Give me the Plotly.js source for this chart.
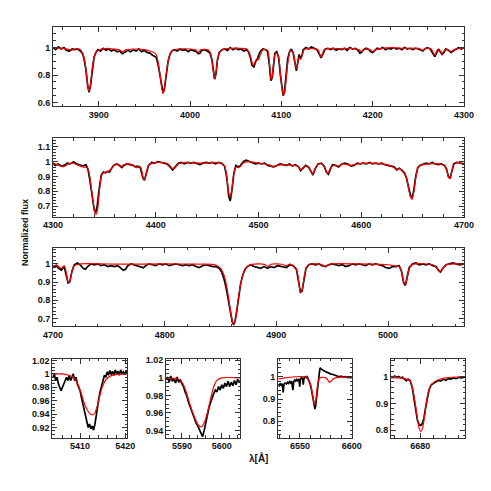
<!DOCTYPE html>
<html>
<head>
<meta charset="utf-8">
<script src="https://cdn.plot.ly/plotly-3.0.1.min.js"></script>
<style>
  html, body { margin: 0; padding: 0; background: #fff; }
  #plot { width: 491px; height: 491px; }
</style>
</head>
<body>
<div id="plot"></div>
<script>
// ---- panel 1 : 3850 - 4300 A ----
var obs1_wl = [3850,3853,3856,3859,3862,3865,3868,3871,3874,3877,3880,3882,3884,3886,3888,3889.5,3891,3893,3895,3897,3899,3902,3905,3908,3911,3914,3917,3920,3923,3926,3929,3932,3935,3938,3941,3944,3947,3950,3953,3956,3959,3961,3963,3965,3967,3969,3970.5,3972,3974,3976,3978,3980,3983,3986,3989,3992,3995,3998,4001,4004,4007,4009,4011,4013,4016,4019,4022,4024,4026,4027,4028.5,4030,4032,4035,4038,4041,4044,4047,4050,4053,4056,4059,4062,4064,4066,4068,4070,4072,4074,4076,4078,4080,4083,4085,4087,4088.5,4090,4091.5,4093,4095,4097,4099,4101,4102,4103.5,4105,4107,4109,4111,4113,4115,4116.5,4118,4119.5,4121,4122.5,4124,4127,4130,4133,4136,4139,4141,4143.5,4146,4148,4151,4154,4157,4160,4163,4166,4169,4172,4175,4178,4181,4184,4186,4188,4190,4193,4196,4198,4200,4202,4205,4208,4211,4214,4217,4220,4223,4226,4229,4232,4235,4238,4241,4244,4247,4250,4253,4255,4257,4260,4263,4266,4268,4270,4272,4274,4276,4278,4280,4283,4286,4288,4291,4294,4297,4300];
var obs1_fx = [1.00,0.985,1.005,0.99,1.00,0.98,0.975,0.99,0.985,0.99,0.975,0.96,0.92,0.84,0.72,0.675,0.72,0.84,0.93,0.965,0.985,0.975,0.995,0.98,0.99,0.975,0.985,0.97,0.975,0.955,0.965,0.98,0.97,0.985,0.975,0.99,0.97,0.98,0.965,0.96,0.945,0.94,0.93,0.88,0.80,0.70,0.67,0.70,0.80,0.90,0.95,0.975,0.985,0.975,0.99,0.98,0.985,0.97,0.985,0.975,0.97,0.955,0.96,0.98,0.985,0.975,0.96,0.91,0.80,0.77,0.81,0.91,0.965,0.985,0.99,0.98,1.0,0.985,0.995,0.985,0.99,0.975,0.985,0.97,0.93,0.87,0.86,0.90,0.92,0.96,0.98,0.99,0.985,0.97,0.87,0.76,0.78,0.88,0.96,0.97,0.93,0.80,0.68,0.65,0.68,0.80,0.92,0.97,0.99,0.96,0.87,0.83,0.89,0.95,0.92,0.94,0.985,1.0,0.99,1.005,0.995,0.985,0.96,0.925,0.96,0.99,0.995,0.985,0.995,0.98,0.99,0.985,0.995,0.98,1.0,0.99,0.995,0.98,0.96,0.965,0.985,0.995,0.985,0.97,0.965,0.98,0.995,0.99,1.0,0.985,0.995,0.99,1.0,0.99,0.995,0.985,1.0,0.99,0.995,0.985,0.995,0.99,0.98,0.975,0.99,1.0,0.99,0.96,0.935,0.96,0.99,0.97,0.95,0.965,0.99,0.98,0.965,0.975,0.99,1.0,0.99,1.0];
var mod1_wl = [3850,3860,3866,3870,3874,3880,3884,3886,3888,3889.5,3891,3893,3895,3898,3903,3910,3916,3922,3926,3930,3940,3950,3956,3960,3963,3965,3967,3969,3970.5,3972,3974,3976,3978,3981,3988,4000,4006,4009,4012,4020,4023,4025,4026.5,4028,4030,4032,4035,4045,4055,4062,4065,4068,4069.5,4071,4073,4075,4077,4080,4085,4087,4088.5,4090,4091.5,4093,4095,4097,4099,4101,4102.5,4104,4106,4108,4110,4113,4115,4116.5,4118,4119.5,4121,4122.5,4125,4130,4140,4143.5,4147,4155,4165,4175,4185,4188,4191,4197,4200,4203,4210,4220,4235,4250,4255,4258,4264,4268,4271,4274,4276,4278,4281,4286,4289,4295,4300];
var mod1_fx = [1.0,0.995,0.99,0.98,0.99,0.985,0.93,0.85,0.73,0.68,0.73,0.85,0.93,0.975,0.99,0.995,0.99,0.985,0.97,0.985,0.99,0.985,0.975,0.965,0.95,0.90,0.81,0.71,0.665,0.71,0.81,0.90,0.95,0.98,0.99,0.99,0.985,0.965,0.985,0.985,0.95,0.86,0.775,0.80,0.90,0.96,0.985,0.995,0.995,0.99,0.96,0.89,0.87,0.89,0.92,0.91,0.95,0.985,0.98,0.89,0.77,0.79,0.89,0.95,0.96,0.93,0.81,0.69,0.655,0.69,0.82,0.93,0.98,0.96,0.89,0.85,0.89,0.93,0.915,0.94,0.985,0.995,0.985,0.93,0.985,0.995,0.99,0.995,0.985,0.97,0.99,0.985,0.97,0.985,0.995,1.0,0.995,0.995,0.98,0.995,0.99,0.945,0.985,0.975,0.955,0.975,0.99,0.97,0.985,0.995,1.0];

// ---- panel 2 : 4300 - 4700 A ----
var obs2_wl = [4300,4302,4305,4308,4311,4314,4317,4320,4323,4326,4329,4332,4334,4336,4338,4340,4341.5,4343,4345,4347,4349,4351,4353,4355,4357,4359,4362,4365,4367,4369,4372,4375,4378,4380,4382,4385,4387.5,4389,4391,4393,4396,4399,4402,4405,4408,4411,4414,4416.5,4419,4422,4425,4428,4431,4434,4437,4440,4443,4446,4449,4452,4455,4458,4461,4464,4467,4469,4471,4472.5,4474,4476,4478,4480,4482,4484,4486,4488,4491,4494,4497,4500,4503,4506,4509,4512,4515,4518,4521,4524,4527,4530,4533,4536,4539,4541,4543,4546,4549,4551,4553,4555,4558,4561,4564,4566,4568,4570,4572,4575,4578,4581,4584,4587,4590,4593,4596,4599,4602,4605,4608,4611,4614,4617,4620,4623,4626,4629,4632,4634.5,4637,4640,4642,4644,4646,4648,4649.5,4651,4653,4655,4657,4660,4663,4666,4669,4672,4675,4678,4681,4683,4685,4686.5,4688,4690,4693,4696,4700];
var obs2_fx = [0.99,0.975,0.985,0.97,0.975,0.99,0.985,1.0,0.985,0.975,0.97,0.98,0.95,0.87,0.76,0.68,0.655,0.70,0.82,0.91,0.93,0.925,0.935,0.93,0.955,0.975,0.985,0.975,0.96,0.975,0.985,0.98,0.975,0.965,0.97,0.96,0.89,0.875,0.93,0.975,0.995,0.99,1.0,0.995,0.99,0.985,0.965,0.945,0.965,0.99,0.995,0.985,0.995,0.99,0.995,0.985,0.98,0.99,0.995,0.99,0.995,0.985,0.995,0.99,0.97,0.90,0.77,0.735,0.80,0.92,0.975,0.965,0.97,0.99,1.005,1.01,1.0,0.995,0.985,0.99,0.985,0.99,0.975,0.97,0.965,0.975,0.985,0.98,0.975,0.985,0.97,0.98,0.965,0.94,0.955,0.975,0.96,0.93,0.91,0.95,0.985,0.99,0.97,0.93,0.915,0.95,0.98,0.975,0.965,0.985,0.99,0.985,0.97,0.975,0.99,0.985,0.99,0.985,0.995,0.985,0.99,0.985,0.99,0.98,0.975,0.97,0.965,0.945,0.955,0.94,0.925,0.89,0.82,0.77,0.76,0.80,0.90,0.96,0.975,0.98,0.99,0.985,0.995,0.985,0.98,0.985,0.975,0.95,0.895,0.89,0.94,0.985,0.995,0.99,0.985];
var mod2_wl = [4300,4304,4310,4315,4320,4325,4329,4333,4335,4337,4339,4341,4342,4343.5,4345,4347,4349,4352,4355,4358,4362,4366,4369,4374,4378,4381,4384,4386,4388,4389.5,4391,4393,4397,4405,4412,4416,4419,4422,4430,4445,4455,4464,4467,4469,4471,4472.5,4474,4476,4478,4480,4482,4485,4490,4500,4510,4514,4518,4525,4533,4538,4541.5,4544,4548,4551,4553,4555,4558,4562,4565,4567.5,4570,4573,4578,4582,4590,4596,4610,4620,4627,4631,4634.5,4637,4640,4642,4644,4646,4648,4649.5,4651,4653,4655,4658,4665,4675,4681,4683,4685,4686.5,4688,4690,4694,4700];
var mod2_fx = [0.99,0.98,0.965,0.985,0.99,0.975,0.965,0.96,0.93,0.84,0.73,0.65,0.645,0.68,0.79,0.90,0.925,0.93,0.94,0.965,0.985,0.965,0.98,0.985,0.975,0.96,0.97,0.95,0.885,0.88,0.93,0.975,0.99,0.995,0.985,0.955,0.96,0.985,0.995,0.99,0.995,0.99,0.97,0.91,0.79,0.76,0.81,0.92,0.965,0.96,0.965,0.99,1.0,0.99,0.98,0.965,0.975,0.98,0.975,0.97,0.945,0.965,0.97,0.935,0.915,0.95,0.985,0.985,0.95,0.92,0.955,0.975,0.97,0.985,0.975,0.985,0.99,0.985,0.975,0.965,0.945,0.955,0.935,0.92,0.89,0.82,0.76,0.745,0.79,0.89,0.955,0.975,0.985,0.985,0.975,0.95,0.895,0.885,0.93,0.98,0.995,0.98];

// ---- panel 3 : 4700 - 5068 A ----
var obs3_wl = [4700,4703,4705,4707.5,4710,4712,4713.5,4715,4717,4719,4722,4725,4727,4729,4731,4734,4737,4740,4743,4746,4749,4752,4755,4758,4761,4763,4765,4767,4770,4773,4776,4779,4781,4783,4786,4789,4792,4795,4798,4801,4804,4807,4810,4813,4816,4819,4822,4825,4828,4831,4834,4837,4840,4843,4846,4849,4851,4853,4855,4857,4859,4860.5,4861.8,4863,4864.5,4866,4868,4870,4872,4874,4877,4880,4883,4886,4889,4892,4895,4898,4901,4904,4907,4909,4912,4915,4918,4920,4921.5,4923,4924.5,4926.5,4929,4932,4935,4938,4941,4944,4947,4950,4953,4956,4959,4962,4965,4968,4971,4974,4977,4980,4983,4986,4989,4992,4995,4998,5001,5004,5007,5010,5012,5014,5015.5,5017,5019,5022,5025,5028,5031,5034,5037,5040,5043,5045,5047,5049,5052,5055,5058,5061,5064,5068];
var obs3_fx = [0.985,0.99,0.975,0.965,0.985,0.94,0.895,0.90,0.96,0.995,1.005,0.99,0.975,0.97,0.985,1.0,0.995,1.0,0.99,0.995,0.985,0.99,0.985,0.99,0.975,0.965,0.97,0.99,1.0,0.995,0.99,0.985,0.978,0.99,1.0,0.995,0.99,1.0,0.995,1.0,0.99,0.995,1.0,0.995,0.99,0.995,0.99,0.995,0.985,0.98,0.99,0.995,0.99,0.985,0.985,0.975,0.955,0.92,0.87,0.80,0.72,0.68,0.665,0.685,0.74,0.81,0.89,0.94,0.97,0.985,0.995,0.985,0.98,0.975,0.985,0.975,0.985,0.98,0.99,0.985,0.98,0.98,0.995,0.99,0.97,0.90,0.845,0.85,0.91,0.975,0.995,1.0,0.995,1.0,0.99,0.985,0.995,1.0,0.995,0.99,0.995,0.985,0.99,1.0,0.995,1.0,0.995,0.99,1.0,0.995,1.0,0.995,0.99,0.98,0.975,0.985,0.985,0.99,0.96,0.895,0.88,0.925,0.98,1.0,1.005,0.995,1.0,0.995,1.0,0.99,0.985,0.965,0.955,0.975,0.995,1.0,1.005,1.0,0.995,1.0];
var mod3_wl = [4700,4703,4705,4707.5,4710,4712,4713.5,4715,4717,4719,4725,4760,4800,4830,4843,4847,4850,4852,4854,4856,4858,4860,4861.5,4863,4864.5,4866,4868,4870,4872,4875,4878,4885,4890,4892.5,4895,4905,4909,4912,4917,4919.5,4921.5,4923,4925,4927,4930,4940,4944,4947,4970,5000,5005,5010,5012,5014,5015.5,5017,5019,5022,5040,5044,5046.5,5049,5052,5060,5068];
var mod3_fx = [0.985,0.995,0.985,0.975,0.99,0.95,0.90,0.905,0.96,0.99,1.0,0.998,1.0,0.998,0.997,0.99,0.975,0.955,0.92,0.86,0.78,0.70,0.67,0.685,0.74,0.81,0.89,0.94,0.97,0.99,0.997,1.0,0.995,0.985,0.998,0.998,0.99,0.998,0.98,0.93,0.84,0.855,0.93,0.98,0.998,0.998,0.985,0.998,1.0,0.995,0.99,0.985,0.96,0.90,0.885,0.92,0.975,0.998,0.995,0.975,0.955,0.975,0.995,1.0,1.0];

// ---- bottom panels ----
var obs4_wl = [5404,5404.3,5404.6,5404.9,5405.2,5405.5,5405.8,5406.1,5406.4,5406.7,5407,5407.3,5407.6,5407.9,5408.2,5408.5,5408.8,5409.1,5409.4,5409.7,5410,5410.3,5410.6,5410.9,5411.2,5411.5,5411.8,5412.1,5412.4,5412.7,5413,5413.3,5413.6,5413.9,5414.2,5414.5,5414.8,5415.1,5415.4,5415.7,5416,5416.3,5416.6,5416.9,5417.2,5417.5,5417.8,5418.1,5418.4,5418.7,5419,5419.3,5419.6,5419.9,5420.2,5420.4];
var obs4_fx = [0.995,1.0,0.99,0.995,0.985,0.98,0.975,0.98,0.985,0.99,0.995,0.99,0.998,0.99,0.995,1.0,0.99,0.995,0.985,0.98,0.975,0.965,0.955,0.945,0.935,0.93,0.92,0.925,0.918,0.922,0.916,0.925,0.94,0.955,0.965,0.975,0.985,0.99,0.998,0.995,1.003,0.998,1.005,0.999,1.004,0.998,1.006,1.0,1.004,0.998,1.006,1.0,1.003,0.999,1.004,1.0];
var mod4_wl = [5403.8,5406,5407.5,5408.5,5409.5,5410.3,5411,5411.7,5412.3,5412.8,5413.3,5413.8,5414.4,5415,5415.8,5416.8,5418,5420.4];
var mod4_fx = [1.0,1.0,0.998,0.995,0.985,0.97,0.955,0.945,0.94,0.939,0.942,0.952,0.968,0.982,0.992,0.997,0.999,1.0];

var obs5_wl = [5586,5586.4,5586.8,5587.2,5587.6,5588,5588.4,5588.8,5589.2,5589.6,5590,5590.4,5590.8,5591.2,5591.6,5592,5592.4,5592.8,5593.2,5593.6,5594,5594.4,5594.8,5595.2,5595.6,5596,5596.4,5596.8,5597.2,5597.6,5598,5598.4,5598.8,5599.2,5599.6,5600,5600.4,5600.8,5601.2,5601.6,5602,5602.4,5602.8,5603.2,5603.6,5604,5604.6];
var obs5_fx = [0.998,1.0,0.995,1.002,0.996,0.999,0.994,1.001,0.995,0.998,0.993,0.99,0.984,0.98,0.973,0.968,0.962,0.957,0.953,0.948,0.945,0.941,0.936,0.933,0.94,0.95,0.958,0.966,0.972,0.978,0.982,0.986,0.984,0.99,0.986,0.992,0.988,0.994,0.99,0.996,0.99,0.995,0.991,0.997,0.992,0.998,0.995];
var mod5_wl = [5586,5589,5590,5591,5592,5593,5594,5594.9,5595.7,5596.5,5597.3,5598,5598.8,5600,5604.6];
var mod5_fx = [1.0,0.999,0.995,0.985,0.97,0.957,0.947,0.944,0.95,0.962,0.978,0.99,0.997,1.0,1.0];

var obs6_wl = [6529,6530,6531,6532,6533,6533.8,6534.5,6535.5,6537,6538,6539,6540,6541,6542,6543.2,6544,6545,6546,6547,6548,6549,6549.8,6550.5,6551.5,6552.5,6553.2,6554,6555,6556,6557,6558,6559,6560,6561,6562,6563,6563.8,6564.5,6565.2,6566,6567,6568,6568.8,6569.5,6570.5,6572,6574,6576,6578,6580,6582,6584,6586,6588,6590,6592,6594,6596,6598,6600];
var obs6_fx = [0.965,0.96,0.97,0.962,0.968,0.93,0.966,0.972,0.968,0.975,0.97,0.978,0.972,0.98,0.94,0.978,0.985,0.98,0.988,0.982,0.99,0.955,0.99,0.995,0.99,0.965,0.995,1.0,0.995,1.0,0.99,0.98,0.965,0.945,0.92,0.88,0.86,0.855,0.87,0.91,0.96,0.99,1.02,1.04,1.035,1.03,1.025,1.02,1.018,1.012,1.01,1.006,1.005,1.0,1.003,0.998,1.0,0.996,0.998,0.995];
var mod6_wl = [6529,6535,6545,6555,6557.5,6559.5,6561,6562.5,6563.5,6564.3,6565.2,6566.2,6567.3,6568.5,6571,6575,6577,6578.5,6580,6582,6585,6590,6600];
var mod6_fx = [0.99,0.995,1.0,1.0,0.99,0.975,0.95,0.91,0.885,0.875,0.89,0.93,0.97,0.99,0.997,0.995,0.985,0.975,0.98,0.99,0.995,0.998,1.0];

var obs7_wl = [6668.5,6669.2,6670,6670.8,6671.5,6672.3,6673,6673.8,6674.5,6675.2,6676,6676.8,6677.5,6678.2,6678.9,6679.6,6680.2,6680.8,6681.4,6682,6682.7,6683.4,6684.2,6685,6686,6687,6688,6689,6690,6691,6692,6693,6694,6695,6696,6697.5];
var obs7_fx = [1.0,0.997,1.002,0.996,1.0,0.995,0.997,0.99,0.984,0.99,0.985,0.96,0.92,0.87,0.835,0.82,0.818,0.825,0.845,0.88,0.92,0.95,0.968,0.975,0.98,0.985,0.983,0.99,0.986,0.992,0.99,0.995,0.992,0.997,0.995,0.998];
var mod7_wl = [6668.5,6672,6674.5,6676,6677,6678,6678.9,6679.6,6680.2,6680.8,6681.5,6682.3,6683.2,6684.3,6685.5,6687.5,6690,6697.5];
var mod7_fx = [0.995,0.995,0.99,0.983,0.955,0.9,0.84,0.805,0.795,0.805,0.84,0.9,0.945,0.97,0.98,0.99,0.995,1.0];

var W = 491, H = 491;
function dx(a, b) { return [a / W, b / W]; }
function dy(top, bot) { return [1 - bot / H, 1 - top / H]; }

var panels = [
  {obs: [obs1_wl, obs1_fx], mod: [mod1_wl, mod1_fx], xr: [3850, 4300], yr: [0.575, 1.15], xd: 100, xm: 20, yd: 0.2, ym: 0.05, px: dx(53, 464), py: dy(27, 106)},
  {obs: [obs2_wl, obs2_fx], mod: [mod2_wl, mod2_fx], xr: [4300, 4700], yr: [0.63, 1.16], xd: 100, xm: 20, yd: 0.1, ym: 0.02, px: dx(53, 464), py: dy(138, 216.5)},
  {obs: [obs3_wl, obs3_fx], mod: [mod3_wl, mod3_fx], xr: [4700, 5068], yr: [0.658, 1.09], xd: 100, xm: 20, yd: 0.1, ym: 0.02, px: dx(53, 464), py: dy(247.5, 326)},
  {obs: [obs4_wl, obs4_fx], mod: [mod4_wl, mod4_fx], xr: [5403.85, 5420.4], yr: [0.905, 1.023], xd: 10, xm: 2, yd: 0.02, ym: 0.005, px: dx(52.3, 127), py: dy(358.5, 437.5)},
  {obs: [obs5_wl, obs5_fx], mod: [mod5_wl, mod5_fx], xr: [5586, 5604.6], yr: [0.932, 1.022], xd: 10, xm: 2, yd: 0.02, ym: 0.005, px: dx(166, 240), py: dy(358.5, 437.5)},
  {obs: [obs6_wl, obs6_fx], mod: [mod6_wl, mod6_fx], xr: [6528.8, 6600.3], yr: [0.727, 1.082], xd: 50, xm: 10, yd: 0.1, ym: 0.02, px: dx(278, 352), py: dy(358.5, 437.5)},
  {obs: [obs7_wl, obs7_fx], mod: [mod7_wl, mod7_fx], xr: [6668.5, 6697.5], yr: [0.773, 1.067], xd: 20, xm: 5, yd: 0.1, ym: 0.02, px: dx(391, 465), py: dy(358.5, 437.5)}
];

var tickFont = {family: 'Liberation Sans, Arial, sans-serif', size: 9, color: '#111', weight: 'bold'};
function axisStyle(range, dtick, mdtick, domain, anchor) {
  return {
    range: range, domain: domain, anchor: anchor,
    dtick: dtick, tick0: 0,
    showline: true, linecolor: '#333', linewidth: 1, mirror: 'allticks',
    ticks: 'inside', ticklen: 5, tickwidth: 1, tickcolor: '#333',
    minor: {dtick: mdtick, tick0: 0, ticks: 'inside', ticklen: 2.5, tickwidth: 1, tickcolor: '#333', showgrid: false},
    showgrid: false, zeroline: false, tickfont: tickFont, fixedrange: true
  };
}

var data = [];
var layout = {
  width: W, height: H,
  margin: {l: 0, r: 0, t: 0, b: 0},
  paper_bgcolor: '#fff', plot_bgcolor: '#fff',
  showlegend: false,
  annotations: [
    {text: 'Normalized flux', xref: 'paper', yref: 'paper', x: 25 / W, y: 1 - 233 / H, xanchor: 'center', yanchor: 'middle',
     textangle: -90, showarrow: false,
     font: {family: 'Liberation Sans, Arial, sans-serif', size: 9, color: '#111', weight: 'bold'}},
    {text: 'λ[Å]', xref: 'paper', yref: 'paper', x: 258 / W, y: 1 - 458 / H, xanchor: 'center', yanchor: 'middle',
     showarrow: false,
     font: {family: 'Liberation Sans, Arial, sans-serif', size: 10, color: '#111', weight: 'bold'}}
  ]
};

panels.forEach(function (p, i) {
  var n = i === 0 ? '' : String(i + 1);
  data.push({x: p.obs[0], y: p.obs[1], xaxis: 'x' + n, yaxis: 'y' + n, type: 'scatter', mode: 'lines',
             line: {color: '#000', width: 1.7}, hoverinfo: 'skip'});
  data.push({x: p.mod[0], y: p.mod[1], xaxis: 'x' + n, yaxis: 'y' + n, type: 'scatter', mode: 'lines',
             line: {color: '#ff0000', width: 1.2, shape: 'spline', smoothing: 0.6}, hoverinfo: 'skip'});
  layout['xaxis' + n] = axisStyle(p.xr, p.xd, p.xm, p.px, 'y' + n);
  layout['yaxis' + n] = axisStyle(p.yr, p.yd, p.ym, p.py, 'x' + n);
});

Plotly.newPlot('plot', data, layout, {staticPlot: true});
</script>
</body>
</html>
